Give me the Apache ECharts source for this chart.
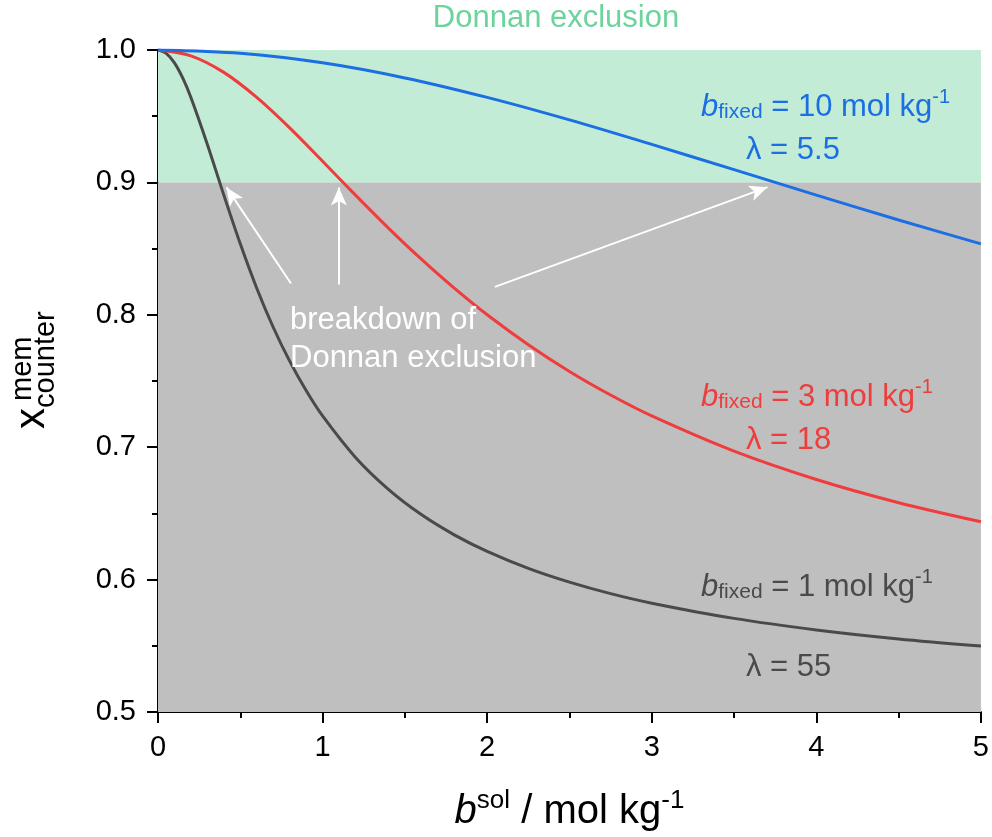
<!DOCTYPE html>
<html>
<head>
<meta charset="utf-8">
<script src="https://cdn.jsdelivr.net/npm/echarts@6/dist/echarts.min.js"></script>
<style>
html,body{margin:0;padding:0;background:#fff;}
#chart{width:992px;height:837px;}
</style>
</head>
<body>
<div id="chart"></div>
<script>
// ---- data ----
var bSolBlack = [0, 0.05, 0.1, 0.15, 0.2, 0.3, 0.4, 0.5, 0.6, 0.7, 0.8, 0.9, 1.0, 1.2, 1.4, 1.6, 1.8, 2.0, 2.25, 2.5, 2.75, 3.0, 3.5, 4.0, 4.5, 5.0];
var xBlack    = [1.0, 0.9975, 0.9903, 0.9789, 0.9642, 0.9287, 0.8904, 0.8536, 0.8201, 0.7906, 0.7650, 0.7428, 0.7236, 0.6923, 0.6682, 0.6491, 0.6338, 0.6213, 0.6085, 0.5981, 0.5894, 0.5822, 0.5707, 0.5620, 0.5552, 0.5498];
var bSolRed   = [0, 0.2, 0.4, 0.6, 0.8, 1.0, 1.2, 1.4, 1.6, 1.8, 2.0, 2.25, 2.5, 2.75, 3.0, 3.5, 4.0, 4.5, 5.0];
var xRed      = [1.0, 0.9956, 0.9831, 0.9642, 0.9412, 0.9160, 0.8904, 0.8655, 0.8420, 0.8201, 0.8000, 0.7774, 0.7572, 0.7394, 0.7236, 0.6970, 0.6756, 0.6581, 0.6437];
var bSolBlue  = [0, 0.5, 1.0, 1.5, 2.0, 2.5, 3.0, 3.5, 4.0, 4.5, 5.0];
var xBlue     = [1.0, 0.9975, 0.9903, 0.9789, 0.9642, 0.9472, 0.9287, 0.9096, 0.8904, 0.8716, 0.8536];
var xTicks    = [0, 1, 2, 3, 4, 5];
var yTicks    = [0.5, 0.6, 0.7, 0.8, 0.9, 1.0];
var exclusionBand = [0.9, 1.0];
var breakdownBand = [0.5, 0.9];
// arrows: [tail, tip] in data coordinates
var arrows = [
  [[0.808, 0.8236], [0.416, 0.8962]],
  [[1.099, 0.8228], [1.099, 0.8962]],
  [[2.047, 0.8211], [3.703, 0.8964]]
];

function zip(a, b) { return a.map(function (v, i) { return [v, b[i]]; }); }

var FONT = '"Liberation Sans", Arial, sans-serif';
var cBlue = '#1b6fe3', cRed = '#ef3c3c', cBlack = '#4a4a4a';

var chart = echarts.init(document.getElementById('chart'));

function curveLabel(x, y, color, val, lam, lx, ly) {
  return [{
    type: 'text', x: x, y: y, z: 100,
    style: {
      text: '{b|b}{s|fixed}{n| = ' + val + ' mol kg}{p|-1}',
      fill: color, font: '31px ' + FONT,
      textVerticalAlign: 'bottom',
      rich: {
        b: { fontSize: 31, fontStyle: 'italic', fontFamily: FONT, fill: color, lineHeight: 36, verticalAlign: 'bottom' },
        s: { fontSize: 21, fontFamily: FONT, fill: color, lineHeight: 29, verticalAlign: 'bottom', padding: [8, 0, 0, 0] },
        n: { fontSize: 31, fontFamily: FONT, fill: color, lineHeight: 36, verticalAlign: 'bottom' },
        p: { fontSize: 20, fontFamily: FONT, fill: color, lineHeight: 20, verticalAlign: 'top' }
      }
    }
  }, {
    type: 'text', x: lx, y: ly, z: 100,
    style: { text: '\u03bb = ' + lam, fill: color, font: '31px ' + FONT, textVerticalAlign: 'bottom' }
  }];
}

var graphics = [
  { type: 'text', x: 556, y: 3, style: { text: 'Donnan exclusion', fill: '#6dd39c', font: '31px ' + FONT, textAlign: 'center' } },
  // y axis title, rotated
  { type: 'text', x: 32, y: 429, rotation: Math.PI / 2, style: { text: 'x', fill: '#000', font: '42px ' + FONT, textAlign: 'left', textVerticalAlign: 'middle' } },
  { type: 'text', x: 23, y: 401, rotation: Math.PI / 2, style: { text: 'mem', fill: '#000', font: '29px ' + FONT, textAlign: 'left', textVerticalAlign: 'middle' } },
  { type: 'text', x: 46, y: 408, rotation: Math.PI / 2, style: { text: 'counter', fill: '#000', font: '29px ' + FONT, textAlign: 'left', textVerticalAlign: 'middle' } },
  // breakdown label
  { type: 'text', x: 290, y: 301, z: 100, style: { text: 'breakdown of\nDonnan exclusion', fill: '#ffffff', font: '31px ' + FONT, lineHeight: 38 } }
];
graphics = graphics.concat(curveLabel(701, 123, cBlue, 10, '5.5', 746, 166));
graphics = graphics.concat(curveLabel(701, 413, cRed, 3, '18', 746, 456));
graphics = graphics.concat(curveLabel(701, 603, cBlack, 1, '55', 746, 683));

var option = {
  animation: false,
  backgroundColor: '#ffffff',
  grid: { left: 158, right: 9, top: 50, bottom: 121, containLabel: false },
  xAxis: {
    type: 'value', min: xTicks[0], max: xTicks[xTicks.length - 1], interval: 1,
    axisLine: { show: true, onZero: false, lineStyle: { color: '#000', width: 2 } },
    axisTick: { show: true, inside: false, length: 11, lineStyle: { color: '#000', width: 2 } },
    minorTick: { show: true, splitNumber: 2, length: 6, lineStyle: { color: '#000', width: 2 } },
    splitLine: { show: false },
    axisLabel: { color: '#000', fontSize: 29, fontFamily: FONT, margin: 21 },
    name: '{i|b}{s|sol}{n| / mol kg}{s|-1}',
    nameLocation: 'middle', nameGap: 76,
    nameTextStyle: {
      rich: {
        i: { fontSize: 40, fontStyle: 'italic', fontFamily: FONT, color: '#000', lineHeight: 44, verticalAlign: 'bottom' },
        n: { fontSize: 40, fontFamily: FONT, color: '#000', lineHeight: 44, verticalAlign: 'bottom' },
        s: { fontSize: 26, fontFamily: FONT, color: '#000', lineHeight: 26, verticalAlign: 'top' }
      }
    }
  },
  yAxis: {
    type: 'value', min: yTicks[0], max: yTicks[yTicks.length - 1], interval: 0.1,
    axisLine: { show: true, onZero: false, lineStyle: { color: '#000', width: 2 } },
    axisTick: { show: true, inside: false, length: 11, lineStyle: { color: '#000', width: 2 } },
    minorTick: { show: true, splitNumber: 2, length: 6, lineStyle: { color: '#000', width: 2 } },
    splitLine: { show: false },
    axisLabel: { color: '#000', fontSize: 29, fontFamily: FONT, margin: 22, formatter: function (v) { return v.toFixed(1); } }
  },
  series: [
    {
      type: 'line', data: zip(bSolBlue, xBlue), showSymbol: false, silent: true, z: 1,
      lineStyle: { opacity: 0 },
      markArea: {
        silent: true,
        data: [
          [{ yAxis: exclusionBand[0], itemStyle: { color: '#c2ecd6' } }, { yAxis: exclusionBand[1] }],
          [{ yAxis: breakdownBand[0], itemStyle: { color: '#bfbfbf' } }, { yAxis: breakdownBand[1] }]
        ]
      }
    },
    {
      type: 'line', data: zip(bSolBlack, xBlack), smooth: 0.3, showSymbol: false, z: 5,
      lineStyle: { color: cBlack, width: 3 }
    },
    {
      type: 'line', data: zip(bSolRed, xRed), smooth: 0.3, showSymbol: false, z: 5,
      lineStyle: { color: cRed, width: 3 }
    },
    {
      type: 'line', data: zip(bSolBlue, xBlue), smooth: 0.3, showSymbol: false, z: 5,
      lineStyle: { color: cBlue, width: 3 }
    },
    {
      type: 'line', data: [], z: 6, silent: true,
      markLine: {
        silent: true, animation: false,
        symbol: ['none', 'arrow'], symbolSize: [12, 18],
        label: { show: false },
        lineStyle: { color: '#ffffff', width: 2, type: 'solid' },
        data: arrows.map(function (a) { return [{ coord: a[0] }, { coord: a[1] }]; })
      }
    }
  ],
  graphic: graphics
};
chart.setOption(option);
</script>
</body>
</html>
